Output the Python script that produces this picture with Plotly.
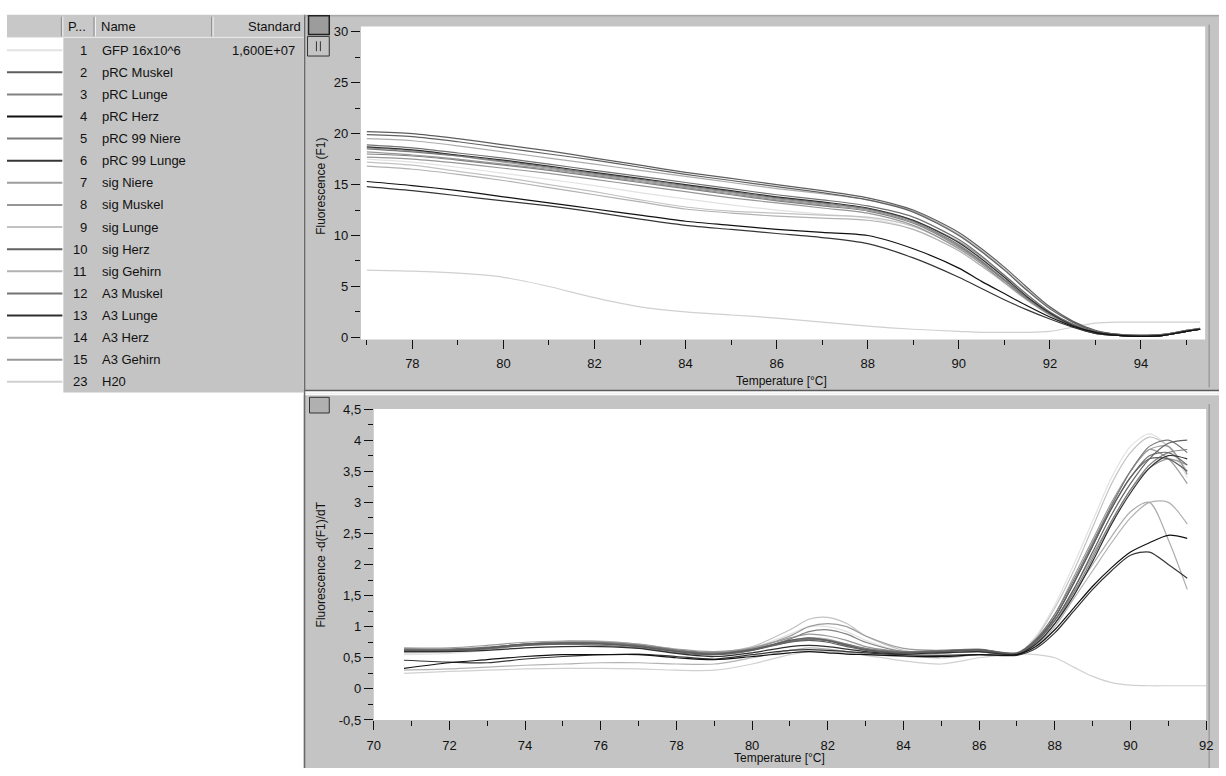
import plotly.graph_objects as go

# ---------------- sample table ----------------
SAMPLE_POS = ["1", "2", "3", "4", "5", "6", "7", "8", "9", "10", "11", "12", "13", "14", "15", "23"]
SAMPLE_NAMES = ["GFP 16x10^6", "pRC Muskel", "pRC Lunge", "pRC Herz", "pRC 99 Niere",
                "pRC 99 Lunge", "sig Niere", "sig Muskel", "sig Lunge", "sig Herz",
                "sig Gehirn", "A3 Muskel", "A3 Lunge", "A3 Herz", "A3 Gehirn", "H20"]
SAMPLE_STANDARD = ["1,600E+07", "", "", "", "", "", "", "", "", "", "", "", "", "", "", ""]
SAMPLE_COLORS = ["#e2e2e2", "#5e5e5e", "#828282", "#111111", "#7a7a7a", "#363636",
                 "#9c9c9c", "#969696", "#c2c2c2", "#626262", "#b2b2b2", "#727272",
                 "#303030", "#acacac", "#989898", "#d0d0d0"]

# ---------------- melting curves: fluorescence F1 ----------------
T_MELT = [77, 78, 79, 80, 81, 82, 83, 84, 85, 86, 87, 88, 89, 90, 90.5, 91, 91.5,
          92, 92.5, 93, 93.5, 94, 94.5, 95, 95.3]
F_MELT = [
    [17.5, 17.2, 16.7, 16.1, 15.5, 14.9, 14.2, 13.6, 13.0, 12.5, 12.1, 11.7, 10.6, 8.5, 7.0, 5.3, 3.6, 2.2, 1.1, 0.5, 0.3, 0.2, 0.3, 0.6, 0.8],
    [20.2, 20.0, 19.5, 18.9, 18.3, 17.6, 16.9, 16.2, 15.6, 15.0, 14.4, 13.7, 12.5, 10.3, 8.7, 6.9, 4.9, 3.0, 1.6, 0.7, 0.3, 0.2, 0.3, 0.7, 0.9],
    [18.0, 17.8, 17.4, 16.9, 16.4, 15.8, 15.2, 14.6, 14.0, 13.4, 12.9, 12.4, 11.2, 8.9, 7.4, 5.6, 3.8, 2.3, 1.1, 0.4, 0.2, 0.1, 0.2, 0.6, 0.8],
    [15.3, 14.9, 14.4, 13.8, 13.2, 12.6, 12.0, 11.4, 11.0, 10.6, 10.3, 10.0, 8.7, 6.8, 5.5, 4.3, 3.1, 2.0, 1.1, 0.5, 0.2, 0.1, 0.2, 0.6, 0.8],
    [18.5, 18.2, 17.8, 17.3, 16.7, 16.1, 15.5, 14.9, 14.3, 13.7, 13.2, 12.6, 11.4, 9.1, 7.5, 5.7, 3.9, 2.3, 1.2, 0.5, 0.2, 0.1, 0.2, 0.6, 0.8],
    [14.8, 14.4, 13.9, 13.4, 12.9, 12.3, 11.6, 11.0, 10.6, 10.2, 9.8, 9.2, 7.8, 5.9, 4.8, 3.7, 2.7, 1.8, 1.0, 0.4, 0.2, 0.1, 0.2, 0.6, 0.8],
    [18.6, 18.3, 17.8, 17.2, 16.6, 16.0, 15.4, 14.8, 14.2, 13.6, 13.1, 12.6, 11.5, 9.4, 7.9, 6.1, 4.2, 2.5, 1.3, 0.5, 0.2, 0.1, 0.2, 0.6, 0.8],
    [17.7, 17.5, 17.1, 16.6, 16.1, 15.5, 14.9, 14.3, 13.7, 13.2, 12.7, 12.2, 11.0, 8.7, 7.2, 5.4, 3.7, 2.2, 1.1, 0.4, 0.2, 0.1, 0.2, 0.6, 0.8],
    [17.2, 16.9, 16.3, 15.7, 15.0, 14.3, 13.5, 12.8, 12.4, 12.2, 12.0, 11.8, 10.9, 8.8, 7.3, 5.6, 3.9, 2.4, 1.3, 0.6, 0.3, 0.2, 0.3, 0.6, 0.8],
    [19.9, 19.7, 19.2, 18.6, 18.0, 17.4, 16.7, 16.0, 15.4, 14.8, 14.2, 13.5, 12.3, 10.0, 8.4, 6.6, 4.6, 2.8, 1.5, 0.6, 0.3, 0.2, 0.3, 0.7, 0.9],
    [16.8, 16.5, 16.0, 15.4, 14.7, 14.0, 13.3, 12.6, 12.2, 11.9, 11.7, 11.5, 10.6, 8.5, 7.0, 5.4, 3.7, 2.3, 1.2, 0.5, 0.2, 0.2, 0.3, 0.6, 0.8],
    [18.9, 18.6, 18.1, 17.6, 17.0, 16.4, 15.8, 15.2, 14.6, 14.0, 13.5, 12.9, 11.8, 9.6, 8.0, 6.1, 4.2, 2.5, 1.3, 0.5, 0.2, 0.1, 0.2, 0.6, 0.8],
    [18.7, 18.4, 17.9, 17.4, 16.8, 16.2, 15.6, 15.0, 14.4, 13.8, 13.3, 12.7, 11.5, 9.3, 7.7, 5.9, 4.0, 2.4, 1.2, 0.5, 0.2, 0.1, 0.2, 0.6, 0.8],
    [19.5, 19.3, 18.8, 18.2, 17.6, 17.0, 16.4, 15.8, 15.2, 14.6, 14.1, 13.5, 12.4, 10.1, 8.5, 6.7, 4.7, 2.9, 1.5, 0.6, 0.3, 0.2, 0.3, 0.7, 0.9],
    [18.2, 17.9, 17.5, 17.0, 16.5, 15.9, 15.3, 14.7, 14.1, 13.5, 13.0, 12.5, 11.3, 9.0, 7.4, 5.6, 3.8, 2.3, 1.1, 0.4, 0.2, 0.1, 0.2, 0.6, 0.8],
    [6.6, 6.5, 6.3, 5.9, 5.0, 3.9, 3.0, 2.5, 2.2, 1.9, 1.5, 1.1, 0.8, 0.6, 0.5, 0.5, 0.5, 0.6, 1.0, 1.4, 1.5, 1.5, 1.5, 1.5, 1.5],
]

# ---------------- melting peaks: -d(F1)/dT ----------------
T_DERIV = [70.8, 72, 73, 74, 75, 76, 77, 78, 79, 80, 81, 81.5, 82, 82.5, 83, 84, 85,
           86, 87, 87.5, 88, 88.5, 89, 89.5, 90, 90.5, 91, 91.5, 92]
D_DERIV = [
    [0.55, 0.57, 0.62, 0.70, 0.75, 0.76, 0.71, 0.62, 0.57, 0.66, 0.88, 1.00, 1.00, 0.92, 0.78, 0.60, 0.57, 0.60, 0.56, 0.85, 1.35, 2.00, 2.70, 3.40, 3.90, 4.10, 3.90, 3.40, None],
    [0.62, 0.62, 0.66, 0.72, 0.74, 0.73, 0.68, 0.60, 0.56, 0.63, 0.78, 0.82, 0.78, 0.70, 0.63, 0.58, 0.60, 0.63, 0.57, 0.78, 1.15, 1.70, 2.30, 2.90, 3.40, 3.70, 3.70, 3.50, None],
    [0.60, 0.61, 0.64, 0.70, 0.72, 0.70, 0.66, 0.58, 0.55, 0.62, 0.80, 0.92, 0.95, 0.88, 0.75, 0.60, 0.58, 0.60, 0.55, 0.72, 1.05, 1.55, 2.10, 2.70, 3.20, 3.60, 3.80, 3.85, None],
    [0.33, 0.42, 0.47, 0.52, 0.55, 0.55, 0.55, 0.50, 0.47, 0.52, 0.58, 0.60, 0.58, 0.56, 0.55, 0.53, 0.52, 0.55, 0.55, 0.68, 0.95, 1.30, 1.65, 1.95, 2.20, 2.35, 2.47, 2.42, None],
    [0.64, 0.63, 0.66, 0.71, 0.73, 0.74, 0.70, 0.62, 0.57, 0.64, 0.76, 0.80, 0.78, 0.72, 0.65, 0.60, 0.62, 0.64, 0.58, 0.80, 1.20, 1.75, 2.35, 2.95, 3.50, 3.90, 4.00, 3.80, None],
    [0.46, 0.43, 0.42, 0.48, 0.52, 0.55, 0.56, 0.52, 0.48, 0.55, 0.62, 0.63, 0.62, 0.60, 0.58, 0.55, 0.54, 0.55, 0.54, 0.65, 0.90, 1.25, 1.60, 1.90, 2.15, 2.20, 2.00, 1.78, None],
    [0.66, 0.66, 0.70, 0.75, 0.77, 0.76, 0.72, 0.64, 0.60, 0.66, 0.85, 1.00, 1.05, 1.00, 0.85, 0.65, 0.62, 0.63, 0.58, 0.80, 1.20, 1.80, 2.40, 3.00, 3.50, 3.85, 3.70, 3.30, None],
    [0.63, 0.63, 0.66, 0.72, 0.75, 0.75, 0.70, 0.62, 0.58, 0.65, 0.82, 0.88, 0.85, 0.78, 0.68, 0.60, 0.61, 0.62, 0.57, 0.76, 1.10, 1.60, 2.15, 2.70, 3.20, 3.55, 3.70, 3.60, None],
    [0.58, 0.60, 0.65, 0.72, 0.76, 0.77, 0.72, 0.63, 0.58, 0.68, 0.95, 1.12, 1.15, 1.05, 0.85, 0.62, 0.58, 0.60, 0.56, 0.82, 1.30, 1.90, 2.60, 3.30, 3.80, 4.05, 3.90, 3.50, None],
    [0.62, 0.62, 0.65, 0.70, 0.72, 0.72, 0.68, 0.60, 0.55, 0.62, 0.75, 0.78, 0.75, 0.68, 0.62, 0.58, 0.60, 0.62, 0.56, 0.75, 1.10, 1.60, 2.20, 2.80, 3.30, 3.70, 3.95, 4.00, None],
    [0.30, 0.32, 0.35, 0.38, 0.40, 0.42, 0.42, 0.40, 0.40, 0.50, 0.62, 0.66, 0.64, 0.60, 0.56, 0.52, 0.50, 0.55, 0.57, 0.70, 1.00, 1.45, 1.90, 2.35, 2.75, 3.00, 3.00, 2.65, None],
    [0.64, 0.64, 0.67, 0.72, 0.74, 0.74, 0.70, 0.62, 0.57, 0.63, 0.76, 0.80, 0.77, 0.70, 0.63, 0.59, 0.61, 0.63, 0.57, 0.78, 1.15, 1.70, 2.30, 2.90, 3.40, 3.75, 3.80, 3.60, None],
    [0.60, 0.60, 0.62, 0.66, 0.68, 0.68, 0.65, 0.57, 0.52, 0.58, 0.68, 0.70, 0.68, 0.64, 0.60, 0.56, 0.58, 0.60, 0.55, 0.72, 1.05, 1.50, 2.05, 2.65, 3.15, 3.55, 3.75, 3.70, None],
    [0.62, 0.62, 0.66, 0.72, 0.74, 0.74, 0.70, 0.62, 0.58, 0.64, 0.78, 0.82, 0.80, 0.72, 0.64, 0.58, 0.60, 0.62, 0.56, 0.75, 1.10, 1.55, 2.00, 2.45, 2.85, 3.00, 2.40, 1.60, None],
    [0.63, 0.63, 0.66, 0.71, 0.73, 0.73, 0.69, 0.61, 0.57, 0.64, 0.77, 0.81, 0.78, 0.71, 0.64, 0.59, 0.61, 0.63, 0.57, 0.77, 1.15, 1.70, 2.30, 2.95, 3.50, 3.85, 3.90, 3.45, None],
    [0.25, 0.28, 0.30, 0.32, 0.33, 0.33, 0.32, 0.30, 0.30, 0.40, 0.55, 0.60, 0.60, 0.58, 0.54, 0.45, 0.40, 0.50, 0.56, 0.55, 0.50, 0.35, 0.20, 0.10, 0.06, 0.05, 0.05, 0.05, 0.05],
]

# ---------------- axis ticks ----------------
X_TICKS_MELT = [78, 80, 82, 84, 86, 88, 90, 92, 94]
Y_TICKS_MELT = [0, 5, 10, 15, 20, 25, 30]
Y_LABELS_MELT = ["0", "5", "10", "15", "20", "25", "30"]
X_TICKS_DERIV = [70, 72, 74, 76, 78, 80, 82, 84, 86, 88, 90, 92]
Y_TICKS_DERIV = [-0.5, 0, 0.5, 1, 1.5, 2, 2.5, 3, 3.5, 4, 4.5]
Y_LABELS_DERIV = ["-0,5", "0", "0,5", "1", "1,5", "2", "2,5", "3", "3,5", "4", "4,5"]

W, H = 1226, 776
PANEL = "#c4c4c4"
FONT = "Liberation Sans"

# plot areas in pixels (left, top, right, bottom)
MELT_BOX = (358, 20, 1212, 339)
DERIV_BOX = (371, 410, 1213, 727)


def fx(x):
    return x / W


def fy(y):
    return 1 - y / H


fig = go.Figure()

# draw lighter traces first so the dark ones sit on top
order = sorted(range(len(SAMPLE_POS)), key=lambda i: -int(SAMPLE_COLORS[i][1:3], 16))
for i in order:
    fig.add_trace(go.Scatter(
        x=T_MELT, y=F_MELT[i], mode="lines", name=SAMPLE_NAMES[i],
        line=dict(color=SAMPLE_COLORS[i], width=1.2, shape="spline", smoothing=0.8),
        xaxis="x", yaxis="y", showlegend=False, hoverinfo="skip"))
for i in order:
    fig.add_trace(go.Scatter(
        x=T_DERIV, y=D_DERIV[i], mode="lines", name=SAMPLE_NAMES[i],
        line=dict(color=SAMPLE_COLORS[i], width=1.2, shape="spline", smoothing=0.8),
        xaxis="x2", yaxis="y2", showlegend=False, hoverinfo="skip", connectgaps=False))

axis_common = dict(
    showgrid=False, zeroline=False, showline=False,
    ticks="outside", ticklen=9, tickwidth=1, tickcolor="#111111",
    tickfont=dict(family=FONT, size=13, color="#111111"),
    fixedrange=True,
)
minor_common = dict(tickmode="linear", tick0=0, ticks="outside", ticklen=5,
                    tickcolor="#111111")

shapes = []


def rect(x0, y0, x1, y1, fill, line=None, width=0, layer="below"):
    shapes.append(dict(type="rect", xref="paper", yref="paper",
                       x0=fx(x0), x1=fx(x1), y0=fy(y1), y1=fy(y0),
                       fillcolor=fill, line=dict(color=line or fill, width=width),
                       layer=layer))


def hline(x0, x1, y, color, width=1, layer="below"):
    shapes.append(dict(type="line", xref="paper", yref="paper",
                       x0=fx(x0), x1=fx(x1), y0=fy(y), y1=fy(y),
                       line=dict(color=color, width=width), layer=layer))


def vline(x, y0, y1, color, width=1, layer="below"):
    shapes.append(dict(type="line", xref="paper", yref="paper",
                       x0=fx(x), x1=fx(x), y0=fy(y0), y1=fy(y1),
                       line=dict(color=color, width=width), layer=layer))


# chart panels with white plotting windows
rect(300, 8, 1226, 391, PANEL)
rect(300, 396, 1226, 776, PANEL)
rect(*MELT_BOX, "white")
rect(*DERIV_BOX, "white")
hline(300, 1226, 391, "#5a5a5a", 1.5)
hline(300, 1226, 394, "#f0f0f0", 1.5)
vline(301, 8, 776, "#6a6a6a", 1.5)
vline(1216, 18, 388, "#8a8a8a", 1)
vline(1216, 405, 776, "#8a8a8a", 1)
hline(300, 1226, 9, "#9a9a9a", 1)

# sample table
rect(0, 8, 300, 31, "#c8c8c8")
rect(57, 31, 300, 393, PANEL)
hline(0, 300, 31, "#e8e8e8", 1)
for xs in (55, 88, 207):
    vline(xs, 10, 30, "#8c8c8c", 1)
    vline(xs + 1.5, 10, 30, "#f2f2f2", 1)

# plot toolbar buttons
rect(305, 9, 326, 28, "#9c9c9c", "#222222", 1.5, layer="above")
rect(304, 30, 326, 50, PANEL, "#333333", 1, layer="above")
vline(313, 35, 45, "#333333", 1, layer="above")
vline(317, 35, 45, "#333333", 1, layer="above")
rect(306, 398, 326, 414, "#b0b0b0", "#333333", 1, layer="above")

ROW0, ROW_STEP = 44, 22.55
annotations = []


def text(x, y, s, anchor="left", size=13, angle=0):
    annotations.append(dict(x=fx(x), y=fy(y), xref="paper", yref="paper", text=s,
                            showarrow=False, xanchor=anchor, yanchor="middle",
                            textangle=angle, borderpad=0,
                            font=dict(family=FONT, size=size, color="#111111")))


text(61, 20, "P...")
text(94, 20, "Name")
text(298, 20, "Standard", anchor="right")
for i in range(len(SAMPLE_POS)):
    y = ROW0 + i * ROW_STEP
    text(82, y, SAMPLE_POS[i], anchor="right")
    text(95, y, SAMPLE_NAMES[i])
    if SAMPLE_STANDARD[i]:
        text(292, y, SAMPLE_STANDARD[i], anchor="right")
    hline(0, 56, y, SAMPLE_COLORS[i], 2, layer="above")

# axis titles
text(783, 381, "Temperature [°C]", anchor="center", size=12)
text(781, 766, "Temperature [°C]", anchor="center", size=12)
text(318, 183, "Fluorescence (F1)", anchor="center", size=12, angle=-90)
text(318, 568, "Fluorescence -d(F1)/dT", anchor="center", size=12, angle=-90)

fig.update_layout(
    width=W, height=H,
    margin=dict(l=0, r=0, t=0, b=0),
    paper_bgcolor="white", plot_bgcolor="white",
    showlegend=False,
    xaxis=dict(axis_common, domain=[fx(MELT_BOX[0]), fx(MELT_BOX[2])], range=[76.87, 95.41],
               anchor="y", tickvals=X_TICKS_MELT, ticklabelstandoff=3,
               minor=dict(minor_common, dtick=1)),
    yaxis=dict(axis_common, domain=[fy(MELT_BOX[3]), fy(MELT_BOX[1])], range=[-0.2, 30.5],
               anchor="x", tickvals=Y_TICKS_MELT, ticktext=Y_LABELS_MELT,
               minor=dict(minor_common, dtick=2.5)),
    xaxis2=dict(axis_common, domain=[fx(DERIV_BOX[0]), fx(DERIV_BOX[2])], range=[70, 92],
                anchor="y2", tickvals=X_TICKS_DERIV, ticklabelstandoff=4,
                minor=dict(minor_common, dtick=1)),
    yaxis2=dict(axis_common, domain=[fy(DERIV_BOX[3]), fy(DERIV_BOX[1])], range=[-0.5, 4.5],
                anchor="x2", tickvals=Y_TICKS_DERIV, ticktext=Y_LABELS_DERIV,
                minor=dict(minor_common, dtick=0.25)),
    shapes=shapes,
    annotations=annotations,
)

# the page body keeps no margin and the figure is held at its full window size
fig.write_html(
    "out.html",
    post_script=(
        "document.body.style.margin='0';"
        "document.body.style.overflow='hidden';"
        "var gd=document.getElementById('{plot_id}');"
        "Plotly.relayout(gd,{width:%d,height:%d});" % (W, H)
    ),
)
